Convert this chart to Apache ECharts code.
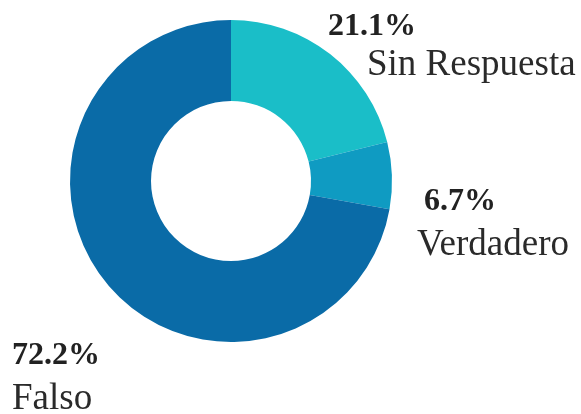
<!DOCTYPE html>
<html>
<head>
<meta charset="utf-8">
<style>
  html, body { margin: 0; padding: 0; background: #ffffff; }
  #chart { width: 581px; height: 414px; }
</style>
<script src="https://cdn.jsdelivr.net/npm/echarts@6/dist/echarts.min.js"></script>
</head>
<body>
<div id="chart"></div>
<script>
// Response categories and their shares (%), clockwise from 12 o'clock
const categories = ['Sin Respuesta', 'Verdadero', 'Falso'];
const shares = [21.1, 6.7, 72.2];
const sliceColors = ['#1abec8', '#0f9bc2', '#0a6ba7'];

// Where each two-line label block sits (top-left corner of the block)
const labelSpots = [
  { x: 328, y: 8 },
  { x: 417, y: 183 },
  { x: 12, y: 337 }
];
// Extra left indent for the percentage / name line of each label
const pctIndent = [0, 7, 0];
const nameIndent = [39, 0, 0];
// Line height of the name line of each label
const nameLineHeight = [38, 48, 48];

const chart = echarts.init(document.getElementById('chart'), null, { renderer: 'canvas' });

const rich = {};
categories.forEach((_, i) => {
  rich['p' + i] = {
    fontFamily: '"Liberation Serif", "Times New Roman", serif',
    fontWeight: 'bold',
    fontSize: 32,
    lineHeight: 38,
    color: '#222222',
    padding: [0, 0, 0, pctIndent[i]]
  };
  rich['n' + i] = {
    fontFamily: '"Liberation Serif", "Times New Roman", serif',
    fontSize: 37,
    lineHeight: nameLineHeight[i],
    color: '#2a2a2a',
    padding: [0, 0, 0, nameIndent[i]]
  };
});

chart.setOption({
  animation: false,
  backgroundColor: '#ffffff',
  series: [{
    type: 'pie',
    center: [231, 181],
    radius: [80, 161],
    startAngle: 90,
    clockwise: true,
    avoidLabelOverlap: false,
    emphasis: { disabled: true },
    data: categories.map((name, i) => ({
      name: name,
      value: shares[i],
      itemStyle: { color: sliceColors[i] }
    })),
    label: {
      show: true,
      position: 'outside',
      align: 'left',
      formatter: (p) => '{p' + p.dataIndex + '|' + p.value.toFixed(1) + '%}\n{n' + p.dataIndex + '|' + p.name + '}',
      rich: rich
    },
    labelLine: { show: false },
    labelLayout: (params) => ({
      x: labelSpots[params.dataIndex].x,
      y: labelSpots[params.dataIndex].y,
      align: 'left',
      verticalAlign: 'top'
    })
  }]
});
</script>
</body>
</html>
